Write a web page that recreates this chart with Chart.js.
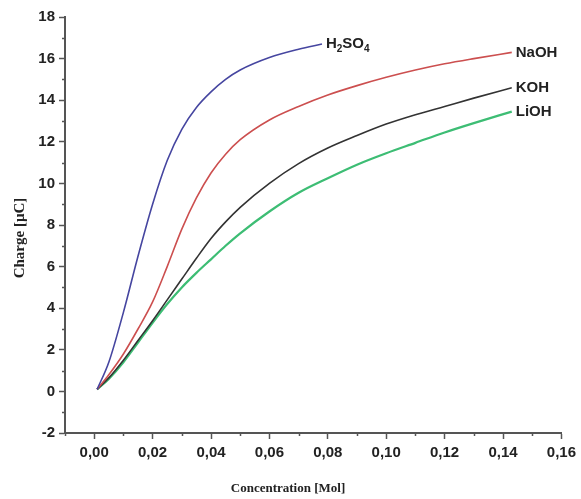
<!DOCTYPE html>
<html>
<head>
<meta charset="utf-8">
<script src="https://cdn.jsdelivr.net/npm/chart.js@4/dist/chart.umd.min.js"></script>
<style>
  html, body { margin: 0; padding: 0; background: #fff; }
  #wrap { width: 581px; height: 499px; }
</style>
</head>
<body>
<div id="wrap"><canvas id="charge_chart"></canvas></div>
<script>
// concentration (Mol) and charge (uC)
var concAcid = [0.001, 0.005, 0.01, 0.015, 0.02, 0.025, 0.03, 0.035, 0.04, 0.045, 0.05, 0.06, 0.07, 0.078];
var chargeH2SO4 = [0.1, 1.4, 3.8, 6.5, 9.0, 11.1, 12.6, 13.65, 14.4, 15.0, 15.45, 16.05, 16.45, 16.7];

var concBase = [0.001, 0.005, 0.01, 0.015, 0.02, 0.025, 0.03, 0.035, 0.04, 0.045, 0.05, 0.06, 0.07, 0.08, 0.09, 0.10, 0.11, 0.12, 0.13, 0.143];
var chargeNaOH = [0.1, 0.8, 1.8, 3.0, 4.3, 6.0, 7.8, 9.3, 10.5, 11.4, 12.1, 13.05, 13.7, 14.25, 14.7, 15.1, 15.45, 15.75, 16.0, 16.3];
var chargeKOH  = [0.1, 0.65, 1.5, 2.45, 3.4, 4.4, 5.4, 6.4, 7.35, 8.15, 8.85, 10.0, 10.95, 11.7, 12.3, 12.85, 13.3, 13.7, 14.1, 14.6];
var chargeLiOH = [0.1, 0.6, 1.4, 2.35, 3.3, 4.2, 5.0, 5.7, 6.35, 7.0, 7.6, 8.65, 9.55, 10.25, 10.9, 11.45, 11.95, 12.45, 12.9, 13.45];

var seriesNames = ['H2SO4', 'NaOH', 'KOH', 'LiOH'];
var xTicks = [0, 0.02, 0.04, 0.06, 0.08, 0.10, 0.12, 0.14, 0.16];
var yTicks = [-2, 0, 2, 4, 6, 8, 10, 12, 14, 16, 18];

function pts(xs, ys) {
	return xs.map(function(x, i) { return {x: x, y: ys[i]}; });
}

var tickFont = {family: '"Liberation Sans", Arial, sans-serif', size: 15, weight: 'bold'};
var axisColor = '#555';

// minor ticks, axis titles and curve labels
var extras = {
	id: 'extras',
	afterDatasetsDraw: function(chart) {
		var ctx = chart.ctx;
		var xs = chart.scales.x, ys = chart.scales.y;
		var area = chart.chartArea;
		ctx.save();
		ctx.strokeStyle = axisColor;
		ctx.lineWidth = 1.5;
		ctx.beginPath();
		for (var v = -0.01; v < 0.165; v += 0.02) {
			var px = Math.round(xs.getPixelForValue(v)) + 0.5;
			ctx.moveTo(px, area.bottom); ctx.lineTo(px, area.bottom + 3);
		}
		for (var w = -1; w < 18; w += 2) {
			var py = Math.round(ys.getPixelForValue(w)) + 0.5;
			ctx.moveTo(area.left, py); ctx.lineTo(area.left - 3, py);
		}
		ctx.stroke();

		// curve labels next to the end of each line
		ctx.fillStyle = '#222';
		ctx.textBaseline = 'middle';
		ctx.textAlign = 'left';
		chart.data.datasets.forEach(function(ds, i) {
			var meta = chart.getDatasetMeta(i);
			var last = meta.data[meta.data.length - 1];
			var lx = last.x + 4, ly = last.y;
			if (ds.label === 'H2SO4') {
				var parts = [['H', 0], ['2', 1], ['SO', 0], ['4', 1]];
				parts.forEach(function(p) {
					ctx.font = p[1] ? 'bold 10px "Liberation Sans", Arial' : 'bold 15px "Liberation Sans", Arial';
					ctx.fillText(p[0], lx, ly + (p[1] ? 5 : 0));
					lx += ctx.measureText(p[0]).width;
				});
			} else {
				ctx.font = 'bold 15px "Liberation Sans", Arial';
				ctx.fillText(ds.label, lx, ly);
			}
		});

		// axis titles
		ctx.font = 'bold 13px "Liberation Serif", "Times New Roman", serif';
		ctx.textAlign = 'center';
		ctx.fillText('Concentration [Mol]', 288, 489);
		ctx.translate(20, 238);
		ctx.rotate(-Math.PI / 2);
		ctx.font = 'bold 15px "Liberation Serif", "Times New Roman", serif';
		ctx.fillText('Charge [\u00b5C]', 0, 0);
		ctx.restore();
	}
};

var config = {
type: 'scatter',
data: {
	datasets: [{
		label: seriesNames[0],
		data: pts(concAcid, chargeH2SO4),
		borderColor: '#4646a0',
		borderWidth: 1.6
	}, {
		label: seriesNames[1],
		data: pts(concBase, chargeNaOH),
		borderColor: '#cc4f4f',
		borderWidth: 1.6
	}, {
		label: seriesNames[2],
		data: pts(concBase, chargeKOH),
		borderColor: '#333333',
		borderWidth: 1.6
	}, {
		label: seriesNames[3],
		data: pts(concBase, chargeLiOH),
		borderColor: '#3dbd74',
		borderWidth: 2.2
	}]
},
options: {
	responsive: true,
	maintainAspectRatio: false,
	animation: false,
	showLine: true,
	elements: {
		point: { radius: 0, hoverRadius: 0 },
		line: { cubicInterpolationMode: 'monotone', fill: false }
	},
	layout: { padding: { top: 17, right: 18, left: 0, bottom: 0 } },
	plugins: {
		legend: { display: false },
		title: { display: false },
		tooltip: { enabled: false }
	},
	scales: {
		x: {
			type: 'linear',
			min: -0.01,
			max: 0.16,
			afterFit: function(s) { s.height = 66; },
			afterBuildTicks: function(s) { s.ticks = xTicks.map(function(v) { return {value: v}; }); },
			grid: { drawOnChartArea: false, color: axisColor, tickLength: 6, tickWidth: 1.5 },
			border: { color: axisColor, width: 2 },
			ticks: {
				padding: 5,
				color: '#222',
				font: tickFont,
				maxRotation: 0,
				callback: function(v) { return v.toFixed(2).replace('.', ','); }
			}
		},
		y: {
			min: -2,
			max: 18,
			afterFit: function(s) { s.width = 65; },
			afterBuildTicks: function(s) { s.ticks = yTicks.map(function(v) { return {value: v}; }); },
			grid: { drawOnChartArea: false, color: axisColor, tickLength: 6, tickWidth: 1.5 },
			border: { color: axisColor, width: 2 },
			ticks: {
				padding: 4,
				color: '#222',
				font: tickFont
			}
		}
	}
},
plugins: [extras]
};

window.onload = function() {
	var ctx = document.getElementById('charge_chart').getContext('2d');
	window.chargeChart = new Chart(ctx, config);
};
</script>
</body>
</html>
